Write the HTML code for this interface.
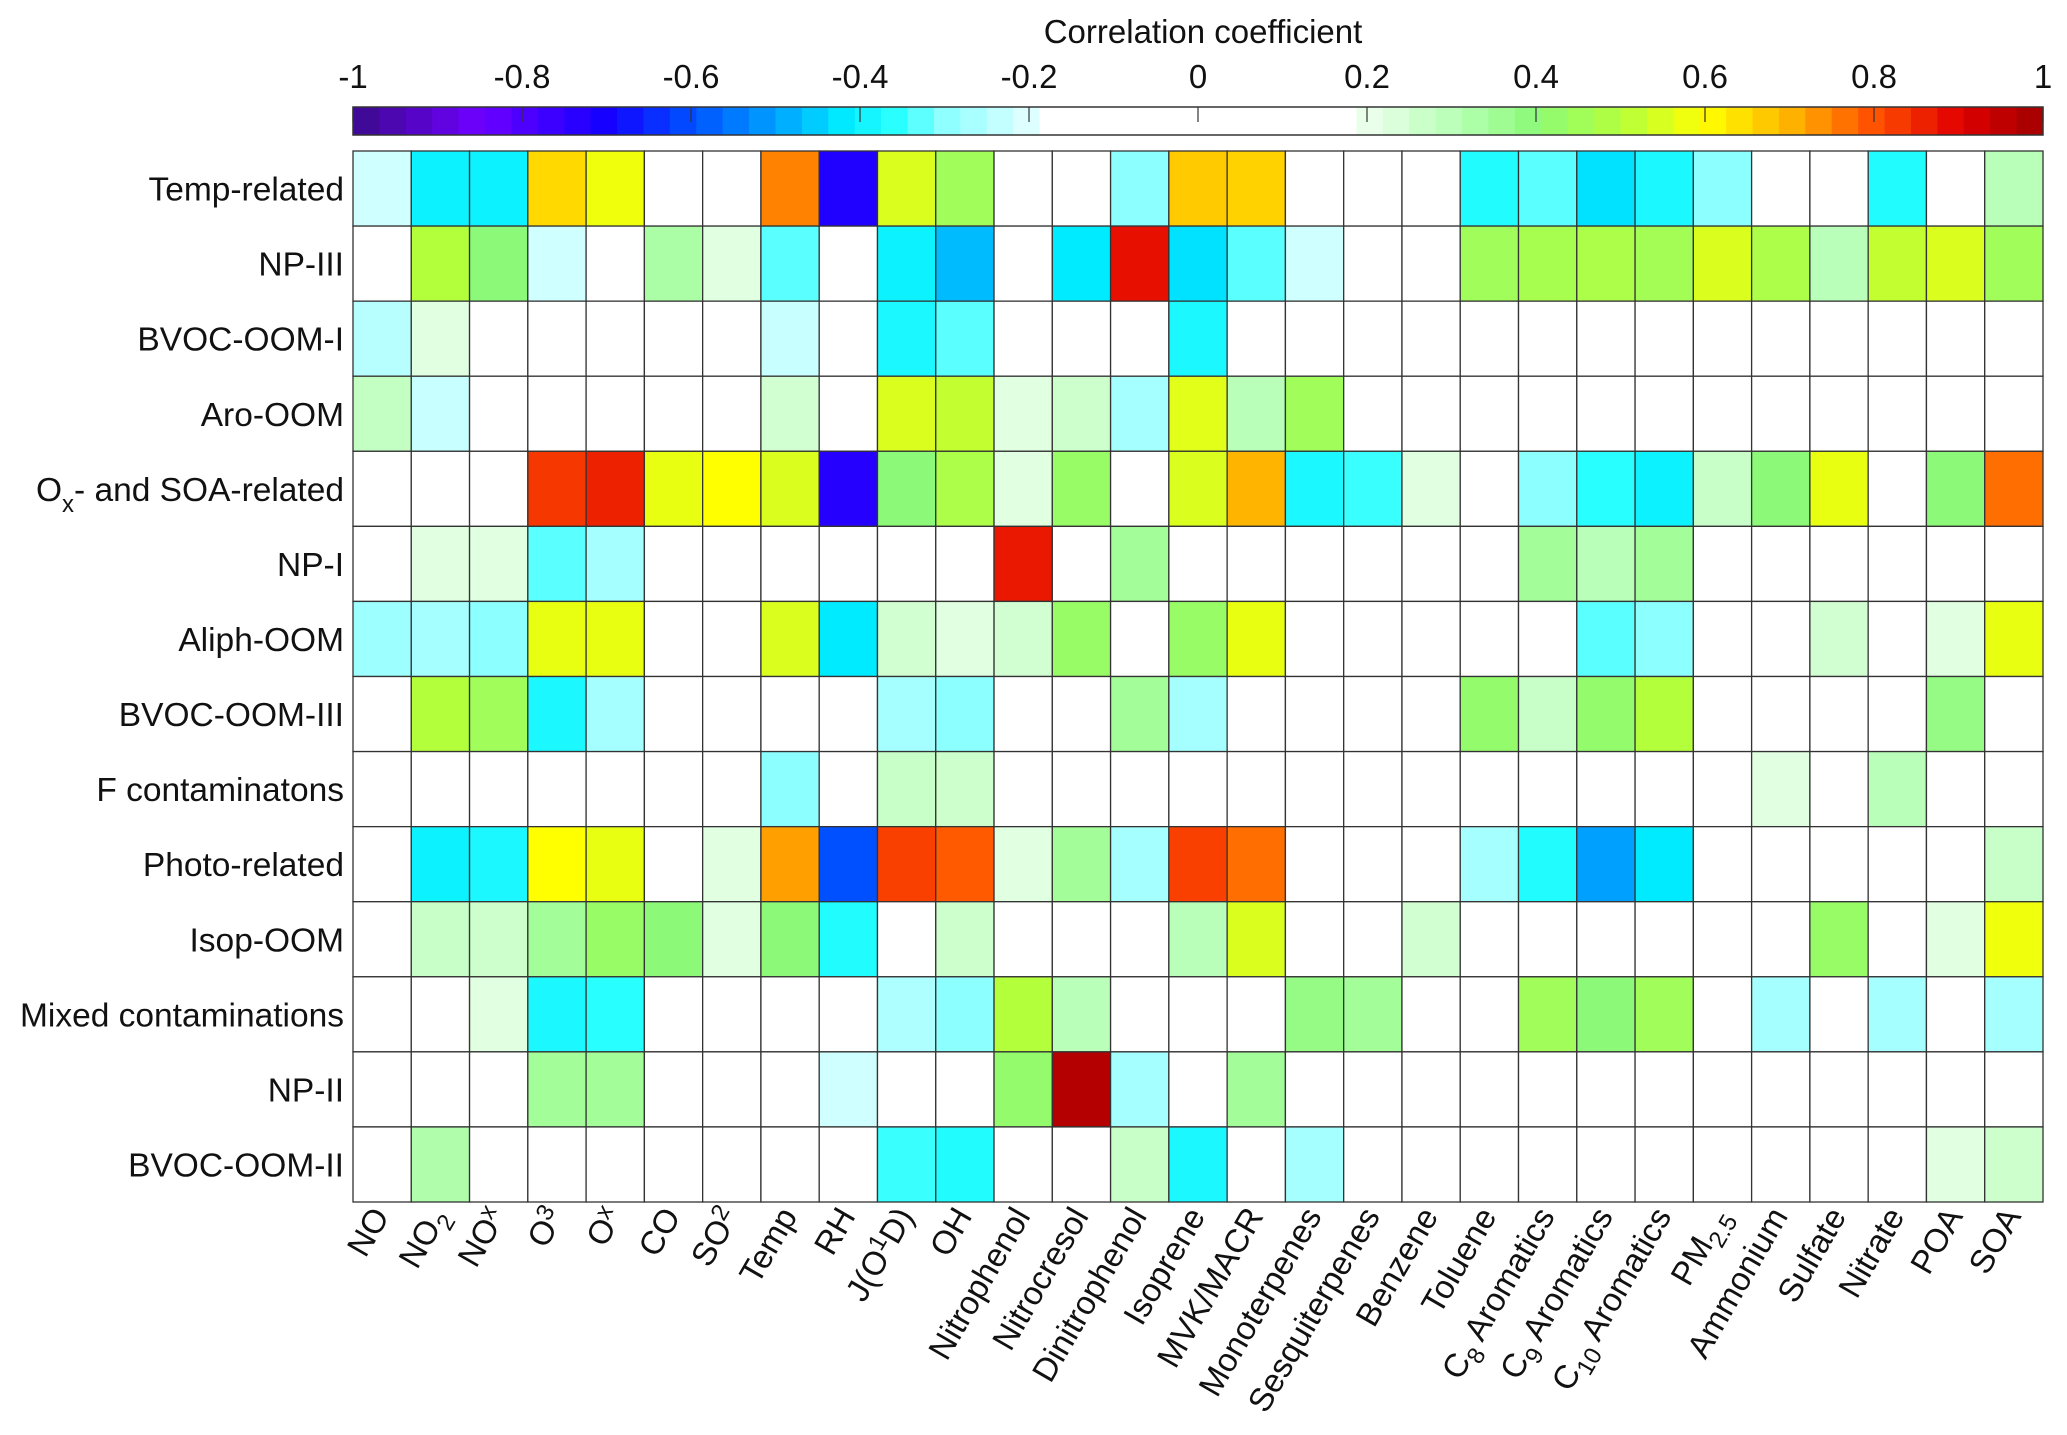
<!DOCTYPE html>
<html><head><meta charset="utf-8"><style>
html,body{margin:0;padding:0;background:#fff;}
svg{display:block;font-family:"Liberation Sans",Arial,sans-serif;}
</style></head><body>
<svg id="chart" width="2067" height="1435" viewBox="0 0 2067 1435" xmlns="http://www.w3.org/2000/svg">
<g id="cbar"></g>
<g id="cells"></g>
<g id="ylabels"></g>
<g id="xlabels"></g>
</svg>
<script>
const rows = ["Temp-related","NP-III","BVOC-OOM-I","Aro-OOM","Ox- and SOA-related","NP-I","Aliph-OOM","BVOC-OOM-III","F contaminatons","Photo-related","Isop-OOM","Mixed contaminations","NP-II","BVOC-OOM-II"];
const cols = ["NO","NO2","NOx","O3","Ox","CO","SO2","Temp","RH","J(O1D)","OH","Nitrophenol","Nitrocresol","Dinitrophenol","Isoprene","MVK/MACR","Monoterpenes","Sesquiterpenes","Benzene","Toluene","C8 Aromatics","C9 Aromatics","C10 Aromatics","PM2.5","Ammonium","Sulfate","Nitrate","POA","SOA"];
const rowTempRelated = [-0.22,-0.4,-0.4,0.65,0.58,0,0,0.75,-0.72,0.55,0.45,0,0,-0.3,0.67,0.66,0,0,0,-0.37,-0.33,-0.43,-0.38,-0.3,0,0,-0.37,0,0.3];
const rowNP3 = [0,0.5,0.4,-0.22,0,0.33,0.22,-0.33,0,-0.4,-0.47,0,-0.42,0.88,-0.43,-0.33,-0.22,0,0,0.45,0.47,0.48,0.46,0.55,0.48,0.3,0.52,0.55,0.45];
const rowBVOC1 = [-0.25,0.22,0,0,0,0,0,-0.23,0,-0.38,-0.33,0,0,0,-0.38,0,0,0,0,0,0,0,0,0,0,0,0,0,0];
const rowAro = [0.28,-0.23,0,0,0,0,0,0.25,0,0.55,0.52,0.22,0.26,-0.27,0.56,0.3,0.45,0,0,0,0,0,0,0,0,0,0,0,0];
const rowOx = [0,0,0,0.83,0.86,0.57,0.6,0.55,-0.73,0.4,0.48,0.22,0.43,0,0.55,0.7,-0.38,-0.35,0.22,0,-0.3,-0.36,-0.4,0.27,0.4,0.57,0,0.4,0.77];
const rowNP1 = [0,0.22,0.22,-0.33,-0.27,0,0,0,0,0,0,0.87,0,0.35,0,0,0,0,0,0,0.35,0.3,0.35,0,0,0,0,0,0];
const rowAliph = [-0.28,-0.27,-0.3,0.57,0.57,0,0,0.55,-0.42,0.25,0.22,0.25,0.43,0,0.43,0.57,0,0,0,0,0,-0.33,-0.3,0,0,0.25,0,0.22,0.57];
const rowBVOC3 = [0,0.5,0.45,-0.38,-0.27,0,0,0,0,-0.27,-0.3,0,0,0.35,-0.27,0,0,0,0,0.42,0.27,0.42,0.5,0,0,0,0,0.38,0];
const rowF = [0,0,0,0,0,0,0,-0.3,0,0.27,0.26,0,0,0,0,0,0,0,0,0,0,0,0,0,0.22,0,0.3,0,0];
const rowPhoto = [0,-0.4,-0.38,0.6,0.57,0,0.22,0.72,-0.6,0.82,0.79,0.22,0.35,-0.27,0.82,0.77,0,0,0,-0.27,-0.37,-0.5,-0.42,0,0,0,0,0,0.27];
const rowIsop = [0,0.27,0.26,0.35,0.43,0.4,0.22,0.4,-0.37,0,0.26,0,0,0,0.3,0.55,0,0,0.25,0,0,0,0,0,0,0.43,0,0.22,0.58];
const rowMixed = [0,0,0.22,-0.38,-0.36,0,0,0,0,-0.26,-0.3,0.5,0.3,0,0,0,0.38,0.35,0,0,0.45,0.4,0.45,0,-0.27,0,-0.27,0,-0.27];
const rowNP2 = [0,0,0,0.35,0.35,0,0,0,-0.22,0,0,0.42,0.97,-0.27,0,0.35,0,0,0,0,0,0,0,0,0,0,0,0,0];
const rowBVOC2 = [0,0.32,0,0,0,0,0,0,0,-0.35,-0.37,0,0,0.27,-0.38,0,-0.27,0,0,0,0,0,0,0,0,0,0,0.22,0.26];
const values = [rowTempRelated,rowNP3,rowBVOC1,rowAro,rowOx,rowNP1,rowAliph,rowBVOC3,rowF,rowPhoto,rowIsop,rowMixed,rowNP2,rowBVOC2];
const tickVals = [-1,-0.8,-0.6,-0.4,-0.2,0,0.2,0.4,0.6,0.8,1];
const tickLabels = ["-1","-0.8","-0.6","-0.4","-0.2","0","0.2","0.4","0.6","0.8","1"];

const NS="http://www.w3.org/2000/svg";
const L=353,R=2043,T=151,B=1202;
const cw=(R-L)/cols.length, rh=(B-T)/rows.length;
const xCol=i=>L+i*cw, yRow=j=>T+j*rh;
const cbL=353,cbR=2043,cbT=107,cbB=135;
const xVal=v=>cbL+(v+1)/2*(cbR-cbL);
const stops=[[-1,[60,10,140]],[-0.85,[110,0,255]],[-0.7,[20,0,255]],[-0.6,[0,80,255]],[-0.5,[0,160,255]],[-0.42,[0,235,255]],[-0.36,[40,255,255]],[-0.3,[140,255,255]],[-0.2,[225,255,255]],[-0.19,[255,255,255]],[0.19,[255,255,255]],[0.2,[235,255,235]],[0.3,[185,255,185]],[0.4,[140,250,120]],[0.5,[180,255,60]],[0.6,[255,255,0]],[0.7,[255,180,0]],[0.8,[255,80,0]],[0.9,[225,0,0]],[1,[160,0,0]]];
function color(v){
  if(v<=stops[0][0])return 'rgb('+stops[0][1]+')';
  for(let k=1;k<stops.length;k++){
    if(v<=stops[k][0]){const a=stops[k-1],b=stops[k];const t=(v-a[0])/(b[0]-a[0]);
      const c=a[1].map((x,i)=>Math.round(x+(b[1][i]-x)*t));return 'rgb('+c.join(',')+')';}
  }
  return 'rgb('+stops[stops.length-1][1]+')';
}
function mk(tag,attrs,parent){const e=document.createElementNS(NS,tag);for(const k in attrs)e.setAttribute(k,attrs[k]);parent.appendChild(e);return e;}

const cb=document.getElementById('cbar');
const N=64;
for(let k=0;k<N;k++){
  const v0=-1+2*k/N, vm=v0+1/N;
  const r=mk('rect',{x:xVal(v0),y:cbT,width:xVal(v0+2/N)-xVal(v0)+0.5,height:cbB-cbT,fill:color(vm)},cb);
  
  
}
const cbo=mk('rect',{x:cbL,y:cbT,width:cbR-cbL,height:cbB-cbT,fill:'none',stroke:'#333','stroke-width':1.5},cb);


tickVals.forEach((v,i)=>{
  const x=xVal(v);
  const tk=mk('line',{x1:x,x2:x,y1:cbT,y2:cbT+15,stroke:'#333','stroke-width':1.2},cb);
  
  
  const t=mk('text',{x:x,y:88,'font-size':33,'text-anchor':'middle',fill:'#111'},cb);
  t.textContent=tickLabels[i];
  
  
});
const ct=mk('text',{x:1203,y:43,'font-size':33,'text-anchor':'middle',fill:'#111'},cb);
ct.textContent='Correlation coefficient';



const cg=document.getElementById('cells');
values.forEach((row,j)=>row.forEach((v,i)=>{
  const r=mk('rect',{x:xCol(i),y:yRow(j),width:cw,height:rh,fill:color(v),stroke:'#333','stroke-width':1.3},cg);
  
  
}));

const yl=document.getElementById('ylabels');
rows.forEach((name,j)=>{
  const t=mk('text',{x:344,y:yRow(j)+rh/2+12,'font-size':33.5,'text-anchor':'end',fill:'#111'},yl);
  if(name.startsWith('Ox-')){
    t.innerHTML='O<tspan font-size="24" dy="11">x</tspan><tspan dy="-11">- and SOA-related</tspan>';
  } else t.textContent=name;
  
  
});

const subs={"NO2":['NO','2','sub'],"NOx":['NO','x','sup'],"O3":['O','3','sup'],"Ox":['O','x','sup'],"SO2":['SO','2','sup'],"PM2.5":['PM','2.5','sub']};
const xl=document.getElementById('xlabels');
cols.forEach((name,i)=>{
  const cx=xCol(i)+cw/2+8, cy=1216;
  const t=mk('text',{x:0,y:0,'font-size':33,'text-anchor':'end',fill:'#111',transform:`translate(${cx},${cy}) rotate(-60)`},xl);
  if(subs[name]){const s=subs[name];
    const dy=s[2]==='sub'?9:-11;
    t.innerHTML=s[0]+'<tspan font-size="24" dy="'+dy+'">'+s[1]+'</tspan><tspan dy="'+(-dy)+'"> </tspan>';
  } else if(name==='J(O1D)'){
    t.innerHTML='J(O<tspan font-size="24" dy="-11">1</tspan><tspan dy="11">D)</tspan>';
  } else if(/^C(8|9|10) /.test(name)){
    const n=name.split(' ')[0].slice(1);
    t.innerHTML='C<tspan font-size="24" dy="9">'+n+'</tspan><tspan dy="-9"> Aromatics</tspan>';
  } else t.textContent=name;
  
  
});
</script>
</body></html>
